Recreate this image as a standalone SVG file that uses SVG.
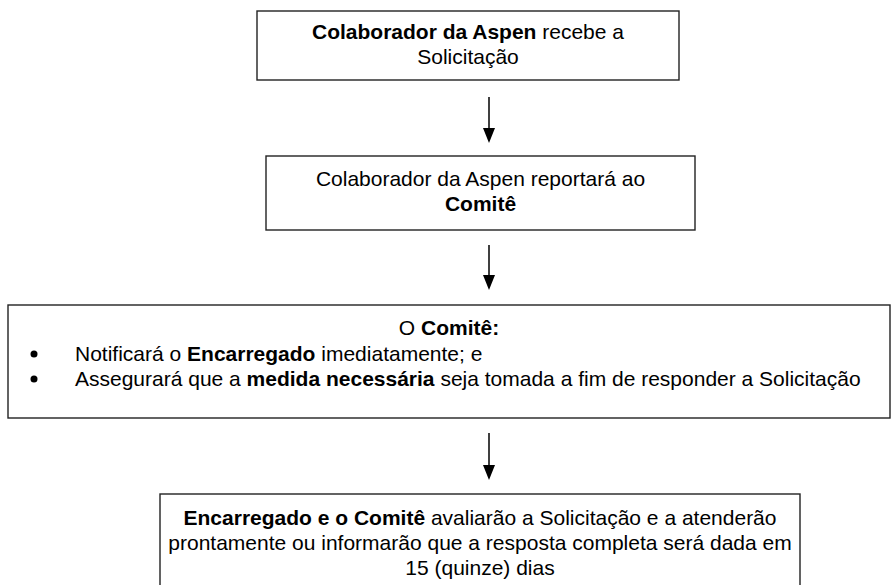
<svg xmlns="http://www.w3.org/2000/svg" width="892" height="585" viewBox="0 0 892 585">
<style>
.box{fill:#fff;stroke:#222;stroke-width:1.4}
.t{font-family:"Liberation Sans",Arial,sans-serif;font-size:21px;fill:#000}
.c{text-anchor:middle}
.b{font-weight:bold}
.conn{stroke:#000;stroke-width:1.5;fill:none}
.head{fill:#000}
</style>
<rect width="892" height="585" fill="#fff"/>
<g id="connectors">
<line class="conn" x1="489" y1="97" x2="489" y2="128"/>
<path class="head" d="M483,128 L495,128 L489,143 Z"/>
<line class="conn" x1="489" y1="245" x2="489" y2="275"/>
<path class="head" d="M483,275 L495,275 L489,290 Z"/>
<line class="conn" x1="489" y1="433" x2="489" y2="465"/>
<path class="head" d="M483,465 L495,465 L489,480 Z"/>
</g>
<g id="node1">
<rect class="box" x="257" y="11" width="422" height="69"/>
<text class="t c" x="468" y="39"><tspan class="b">Colaborador da Aspen</tspan> recebe a</text>
<text class="t c" x="468" y="64">Solicitação</text>
</g>
<g id="node2">
<rect class="box" x="266" y="156" width="429" height="74"/>
<text class="t c" x="480.5" y="186">Colaborador da Aspen reportará ao</text>
<text class="t c b" x="480.5" y="211">Comitê</text>
</g>
<g id="node3">
<rect class="box" x="8" y="305" width="882" height="113"/>
<text class="t c" x="449" y="335">O <tspan class="b">Comitê:</tspan></text>
<circle cx="34" cy="354" r="3.5" fill="#000"/>
<text class="t" x="75" y="361">Notificará o <tspan class="b">Encarregado</tspan> imediatamente; e</text>
<circle cx="34" cy="379" r="3.5" fill="#000"/>
<text class="t" x="75" y="386">Assegurará que a <tspan class="b">medida necessária</tspan> seja tomada a fim de responder a Solicitação</text>
</g>
<g id="node4">
<rect class="box" x="160" y="494" width="640" height="120"/>
<text class="t c" x="480" y="525"><tspan class="b">Encarregado e o Comitê</tspan> avaliarão a Solicitação e a atenderão</text>
<text class="t c" x="480" y="550">prontamente ou informarão que a resposta completa será dada em</text>
<text class="t c" x="480" y="575">15 (quinze) dias</text>
</g>
</svg>
